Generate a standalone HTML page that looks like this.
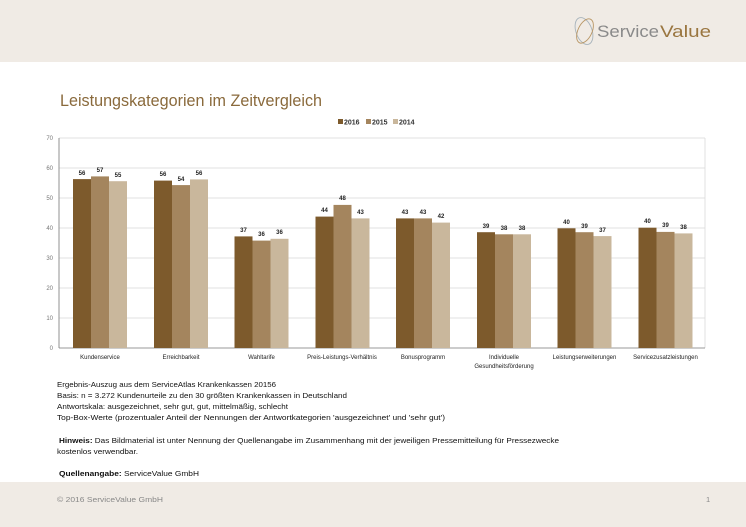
<!DOCTYPE html>
<html><head><meta charset="utf-8"><style>
html,body{margin:0;padding:0;background:#fff}
svg{display:block;font-family:"Liberation Sans",sans-serif}
</style></head><body>
<svg width="746" height="527" viewBox="0 0 746 527" xmlns="http://www.w3.org/2000/svg">
<rect x="0" y="0" width="746" height="62" fill="#f0ebe5"/>
<rect x="0" y="482" width="746" height="45" fill="#f0ebe5"/>
<g fill="none" stroke-width="0.9">
<ellipse cx="584" cy="31" rx="8" ry="14" stroke="#a8b4bc" transform="rotate(-20 584 31)"/>
<ellipse cx="585" cy="31" rx="7" ry="13" stroke="#b99766" transform="rotate(25 585 31)"/>
</g>
<text x="597" y="37" font-size="17" fill="#8a8a8a" textLength="62" lengthAdjust="spacingAndGlyphs">Service</text>
<text x="660" y="37" font-size="17" fill="#9a7640" textLength="51" lengthAdjust="spacingAndGlyphs">Value</text>
<text x="60" y="106" font-size="17" fill="#8a6a3c" textLength="262" lengthAdjust="spacingAndGlyphs">Leistungskategorien im Zeitvergleich</text>
<rect x="338" y="119" width="5" height="5" fill="#7d5a2c"/><text x="344" y="124.5" font-size="7" font-weight="bold" fill="#333">2016</text>
<rect x="366" y="119" width="5" height="5" fill="#a4855e"/><text x="372" y="124.5" font-size="7" font-weight="bold" fill="#333">2015</text>
<rect x="393" y="119" width="5" height="5" fill="#c9b79c"/><text x="399" y="124.5" font-size="7" font-weight="bold" fill="#333">2014</text>
<g stroke="#d9d9d9" stroke-width="0.8">
<line x1="59" y1="138" x2="705" y2="138"/><line x1="59" y1="168" x2="705" y2="168"/>
<line x1="59" y1="198" x2="705" y2="198"/><line x1="59" y1="228" x2="705" y2="228"/>
<line x1="59" y1="258" x2="705" y2="258"/><line x1="59" y1="288" x2="705" y2="288"/>
<line x1="59" y1="318" x2="705" y2="318"/><line x1="705" y1="138" x2="705" y2="348"/>
</g>
<line x1="59" y1="138" x2="59" y2="348" stroke="#777" stroke-width="0.8"/>
<line x1="59" y1="348" x2="705" y2="348" stroke="#777" stroke-width="0.8"/>
<g font-size="6" fill="#777" text-anchor="end">
<text x="53" y="140">70</text><text x="53" y="170">60</text><text x="53" y="200">50</text>
<text x="53" y="230">40</text><text x="53" y="260">30</text><text x="53" y="290">20</text>
<text x="53" y="320">10</text><text x="53" y="350">0</text>
</g>
<g>
<rect x="73" y="179.1" width="18" height="168.9" fill="#7d5a2c"/>
<rect x="91" y="176.4" width="18" height="171.6" fill="#a4855e"/>
<rect x="109" y="181.2" width="18" height="166.8" fill="#c9b79c"/>
<rect x="154" y="180.6" width="18" height="167.4" fill="#7d5a2c"/>
<rect x="172" y="185.1" width="18" height="162.9" fill="#a4855e"/>
<rect x="190" y="179.4" width="18" height="168.6" fill="#c9b79c"/>
<rect x="234.5" y="236.4" width="18" height="111.6" fill="#7d5a2c"/>
<rect x="252.5" y="240.6" width="18" height="107.4" fill="#a4855e"/>
<rect x="270.5" y="238.8" width="18" height="109.2" fill="#c9b79c"/>
<rect x="315.5" y="216.6" width="18" height="131.4" fill="#7d5a2c"/>
<rect x="333.5" y="204.9" width="18" height="143.1" fill="#a4855e"/>
<rect x="351.5" y="218.4" width="18" height="129.6" fill="#c9b79c"/>
<rect x="396" y="218.4" width="18" height="129.6" fill="#7d5a2c"/>
<rect x="414" y="218.4" width="18" height="129.6" fill="#a4855e"/>
<rect x="432" y="222.6" width="18" height="125.4" fill="#c9b79c"/>
<rect x="477" y="232.2" width="18" height="115.8" fill="#7d5a2c"/>
<rect x="495" y="234.3" width="18" height="113.7" fill="#a4855e"/>
<rect x="513" y="234.3" width="18" height="113.7" fill="#c9b79c"/>
<rect x="557.5" y="228.3" width="18" height="119.7" fill="#7d5a2c"/>
<rect x="575.5" y="232.2" width="18" height="115.8" fill="#a4855e"/>
<rect x="593.5" y="236.1" width="18" height="111.9" fill="#c9b79c"/>
<rect x="638.5" y="227.7" width="18" height="120.3" fill="#7d5a2c"/>
<rect x="656.5" y="231.9" width="18" height="116.1" fill="#a4855e"/>
<rect x="674.5" y="233.4" width="18" height="114.6" fill="#c9b79c"/>
</g>
<g font-size="6" font-weight="bold" fill="#222" text-anchor="middle">
<text x="82" y="175">56</text><text x="100" y="172">57</text><text x="118" y="177">55</text>
<text x="163" y="176">56</text><text x="181" y="181">54</text><text x="199" y="175">56</text>
<text x="243.5" y="232">37</text><text x="261.5" y="236">36</text><text x="279.5" y="234">36</text>
<text x="324.5" y="212">44</text><text x="342.5" y="200">48</text><text x="360.5" y="214">43</text>
<text x="405" y="214">43</text><text x="423" y="214">43</text><text x="441" y="218">42</text>
<text x="486" y="228">39</text><text x="504" y="230">38</text><text x="522" y="230">38</text>
<text x="566.5" y="224">40</text><text x="584.5" y="228">39</text><text x="602.5" y="232">37</text>
<text x="647.5" y="223">40</text><text x="665.5" y="227">39</text><text x="683.5" y="229">38</text>
</g>
<g font-size="6" fill="#222" text-anchor="middle">
<text x="100" y="359">Kundenservice</text>
<text x="181" y="359">Erreichbarkeit</text>
<text x="261.5" y="359">Wahltarife</text>
<text x="342" y="359">Preis-Leistungs-Verhältnis</text>
<text x="423" y="359">Bonusprogramm</text>
<text x="504" y="359">Individuelle</text>
<text x="504" y="368">Gesundheitsförderung</text>
<text x="584.5" y="359">Leistungserweiterungen</text>
<text x="665.5" y="359">Servicezusatzleistungen</text>
</g>
<g font-size="7.5" fill="#111">
<text x="57" y="387" textLength="219" lengthAdjust="spacingAndGlyphs">Ergebnis-Auszug aus dem ServiceAtlas Krankenkassen 20156</text>
<text x="57" y="398" textLength="290" lengthAdjust="spacingAndGlyphs">Basis: n = 3.272 Kundenurteile zu den 30 größten Krankenkassen in Deutschland</text>
<text x="57" y="409" textLength="231" lengthAdjust="spacingAndGlyphs">Antwortskala: ausgezeichnet, sehr gut, gut, mittelmäßig, schlecht</text>
<text x="57" y="420" textLength="388" lengthAdjust="spacingAndGlyphs">Top-Box-Werte (prozentualer Anteil der Nennungen der Antwortkategorien 'ausgezeichnet' und 'sehr gut')</text>
<text x="59" y="443" textLength="500" lengthAdjust="spacingAndGlyphs"><tspan font-weight="bold">Hinweis:</tspan> Das Bildmaterial ist unter Nennung der Quellenangabe im Zusammenhang mit der jeweiligen Pressemitteilung für Pressezwecke</text>
<text x="57" y="454" textLength="81" lengthAdjust="spacingAndGlyphs">kostenlos verwendbar.</text>
<text x="59" y="476" textLength="140" lengthAdjust="spacingAndGlyphs"><tspan font-weight="bold">Quellenangabe:</tspan> ServiceValue GmbH</text>
</g>
<text x="57" y="502" font-size="7.5" fill="#888" textLength="106" lengthAdjust="spacingAndGlyphs">© 2016 ServiceValue GmbH</text>
<text x="706" y="502" font-size="7.5" fill="#888">1</text>
</svg>
</body></html>
